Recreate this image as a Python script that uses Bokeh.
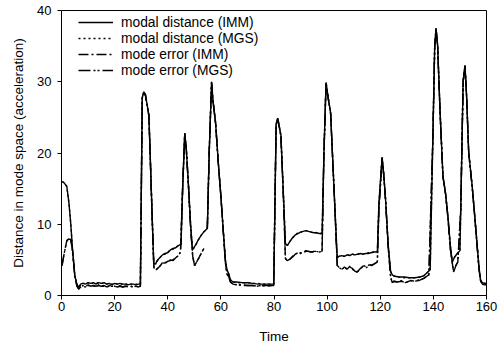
from bokeh.plotting import figure
from bokeh.models import FixedTicker, Legend, LegendItem, Range1d
from bokeh.embed import file_html
from bokeh.resources import INLINE

# ---------------- data ----------------
t_dist = [0.3, 1.0, 2.0, 2.8, 3.5, 4.2, 5.0, 5.8, 6.5, 7.2,
          8, 9, 10, 11, 12, 13, 14, 15, 16, 17,
          18, 19, 20, 21, 22, 23, 24, 25, 26, 27,
          28, 29, 29.7,
          30.4, 31.0, 31.6, 32.9, 33.5, 34.1, 34.7, 35.4, 36.0, 37.0,
          38.0, 39.0, 40.0, 41.0, 42.0, 43.0, 44.0, 45.0,
          45.6, 46.4, 47.0, 47.8, 48.6, 49.3, 50.5, 51.5, 52.5, 53.5,
          54.9,
          55.6, 56.5, 57.0, 58.0, 59.0, 60.0, 61.0, 61.7, 62.3, 63.0,
          63.6, 64.5, 66, 68, 70, 72, 74, 76, 78, 79.9,
          80.8, 81.4, 82.6, 83.5, 84.3, 85.0, 86.0, 87.0, 88.0, 89.0,
          90.0, 91.0, 92.0, 93.0, 94.0, 95.0, 96.0, 97.0, 98.1,
          98.8, 99.6, 100.3, 101.3, 102.2, 103.0, 103.8, 104.5, 105.5, 106.5,
          107.5, 108.5, 109.5, 110.5, 111.5, 112.5, 113.5, 114.5, 115.5, 116.5,
          117.5, 118.9,
          119.5, 120.7, 121.3, 122.0, 123.0, 123.9, 124.5, 125.5, 127, 129,
          131, 133, 135, 136.5, 137.9,
          138.8, 139.8, 140.5, 141.0, 141.6, 142.5, 143.6, 144.6, 145.5, 146.4,
          147.1, 148.0, 149.0, 150.0,
          150.3, 151.2, 151.9, 152.5, 153.3, 154.6, 155.5, 156.5, 157.2, 157.8,
          158.5, 159.3, 160]

modal_imm = [16.0, 15.8, 15.3, 13.0, 10.0, 6.2, 2.8, 1.6, 1.1, 1.6,
             1.7, 1.6, 1.8, 1.7, 1.8, 1.6, 1.8, 1.7, 1.8, 1.6,
             1.7, 1.5, 1.7, 1.6, 1.7, 1.6, 1.6, 1.5, 1.6, 1.6,
             1.5, 1.6, 1.6,
             27.8, 28.6, 28.2, 25.3, 18.5, 11.5, 4.5, 4.4, 4.9, 5.3,
             5.7, 5.9, 6.0, 6.4, 6.6, 6.7, 7.0, 7.2,
             15.0, 22.8, 20.5, 15.5, 10.0, 6.4, 7.1, 7.8, 8.4, 8.9,
             9.4,
             20.0, 30.0, 27.5, 24.3, 18.8, 14.0, 8.6, 5.0, 3.6, 3.0,
             2.2, 1.9, 1.9, 1.8, 1.8, 1.7, 1.6, 1.6, 1.6, 1.6,
             24.0, 24.9, 22.5, 14.5, 7.3, 7.0, 7.6, 8.1, 8.5, 8.7,
             8.9, 9.0, 9.1, 9.0, 8.9, 8.8, 8.8, 8.7, 8.7,
             20.0, 29.9, 28.0, 25.7, 18.3, 11.7, 5.3, 5.5, 5.6, 5.5,
             5.7, 5.6, 5.8, 5.7, 5.8, 5.9, 5.8, 5.9, 5.9, 6.0,
             6.1, 6.1,
             13.0, 19.4, 17.0, 13.5, 7.0, 3.4, 2.9, 2.7, 2.6, 2.6,
             2.5, 2.5, 2.6, 2.8, 3.3,
             3.6, 22.0, 35.0, 37.5, 35.1, 26.0, 16.8, 14.3, 11.0, 7.0,
             4.7, 5.4, 5.9, 6.3,
             12.0, 30.0, 32.3, 28.0, 20.1, 15.4, 11.5, 7.0, 3.8, 2.1,
             1.8, 1.7, 1.7]

modal_mgs = [16.0, 15.8, 15.3, 13.0, 10.0, 6.2, 2.8, 1.6, 1.1, 1.6,
             1.7, 1.7, 1.8, 1.6, 1.8, 1.7, 1.8, 1.7, 1.7, 1.6,
             1.7, 1.6, 1.7, 1.6, 1.6, 1.6, 1.7, 1.5, 1.6, 1.6,
             1.6, 1.6, 1.6,
             27.8, 28.6, 28.2, 25.3, 18.5, 11.5, 4.5, 4.4, 4.8, 5.3,
             5.7, 5.8, 6.1, 6.4, 6.5, 6.8, 7.0, 7.2,
             15.0, 22.8, 20.5, 15.5, 10.0, 6.4, 7.0, 7.8, 8.4, 8.9,
             9.4,
             20.0, 30.0, 27.5, 24.3, 18.8, 14.0, 8.6, 5.0, 3.6, 3.0,
             2.2, 1.9, 1.8, 1.8, 1.8, 1.7, 1.7, 1.6, 1.6, 1.6,
             24.0, 24.9, 22.5, 14.5, 7.3, 7.0, 7.6, 8.1, 8.5, 8.8,
             8.9, 9.0, 9.1, 9.0, 8.9, 8.9, 8.8, 8.7, 8.7,
             20.0, 29.9, 28.0, 25.7, 18.3, 11.7, 5.3, 5.5, 5.5, 5.5,
             5.7, 5.7, 5.8, 5.7, 5.8, 5.8, 5.8, 5.9, 6.0, 6.0,
             6.1, 6.1,
             13.0, 19.4, 17.0, 13.5, 7.0, 3.4, 2.9, 2.7, 2.6, 2.5,
             2.5, 2.5, 2.6, 2.8, 3.3,
             3.6, 22.0, 35.0, 37.5, 35.1, 26.0, 16.8, 14.3, 11.0, 7.0,
             4.7, 5.4, 5.9, 6.3,
             12.0, 30.0, 32.3, 28.0, 20.1, 15.4, 11.5, 7.0, 3.8, 2.1,
             1.8, 1.7, 1.7]

t_err = [0.2, 1.0, 2.0, 2.6, 3.4, 4.2, 5.0, 5.8, 6.5, 7.2,
         8, 9, 10, 11, 12, 13, 14, 15, 16, 17,
         18, 19, 20, 21, 22, 23, 24, 25, 26, 27,
         28, 29, 29.7,
         30.4, 31.0, 31.6, 32.9, 33.5, 34.1, 34.8, 35.4, 36.0, 37.0,
         38.0, 39.0, 40.0, 41.0, 42.0, 43.0, 44.0, 44.8,
         45.6, 46.4, 47.0, 47.8, 48.6, 49.4, 50.1, 51.0, 52.0, 53.0,
         53.6, 54.2,
         54.9, 55.6, 56.5, 57.0, 58.0, 59.0, 60.0, 61.0, 61.7, 62.3,
         63.0, 63.6, 64.5, 66, 68, 70, 72, 73.7, 75, 77,
         79, 79.9,
         80.8, 81.4, 82.6, 83.5, 84.3, 85.0, 86, 87, 88, 89,
         90, 91, 92, 93, 94, 95, 96, 97, 98.1,
         98.8, 99.6, 100.3, 101.3, 102.2, 103.0, 103.8, 104.4, 105.5, 106.5,
         107.6, 108.5, 109.5, 110.5, 111.3, 112.5, 113.8, 114.8, 115.8, 116.8,
         117.6, 118.9,
         119.5, 120.7, 121.3, 122.0, 123.0, 123.9, 124.5, 125.1, 126.5, 128,
         129.5, 131.4, 133, 134.5, 136.4, 137.5, 138.3,
         139.8, 140.5, 141.0, 141.6, 142.5, 143.6, 144.6, 145.5, 146.4, 147.6,
         148.4, 149.2,
         150.3, 151.2, 151.9, 152.5, 153.3, 154.6, 155.5, 156.5, 157.2, 157.8,
         158.5, 159.3, 160]

err_imm = [4.2, 5.9, 7.7, 7.9, 7.9, 6.2, 2.8, 1.3, 0.9, 1.2,
           1.4, 1.2, 1.5, 1.3, 1.4, 1.2, 1.5, 1.3, 1.4, 1.2,
           1.4, 1.3, 1.3, 1.2, 1.4, 1.2, 1.3, 1.2, 1.3, 1.2,
           1.3, 1.2, 1.3,
           27.7, 28.5, 28.1, 25.2, 18.3, 11.3, 3.9, 3.6, 3.7, 4.1,
           4.6, 4.5, 4.8, 5.0, 4.9, 5.3, 5.6, 6.1,
           15.0, 22.7, 20.4, 15.3, 9.5, 5.5, 4.2, 4.8, 5.5, 6.2,
           6.6, float("nan"),
           9.4, 20.0, 29.8, 27.4, 24.2, 18.7, 13.9, 8.5, 4.6, 3.0,
           2.6, 1.9, 1.6, 1.5, 1.5, 1.4, 1.4, 1.3, 1.4, 1.4,
           1.4, 1.4,
           24.0, 24.8, 22.4, 14.3, 5.2, 4.9, 5.1, 5.4, 5.8, 6.0,
           5.9, 6.0, 6.3, 6.2, 6.1, 6.1, 6.2, 6.1, 6.2,
           20.0, 29.8, 27.9, 25.6, 18.2, 11.5, 4.2, 4.0, 3.6, 4.0,
           3.7, 4.1, 3.7, 3.4, 3.3, 3.8, 4.2, 3.9, 4.3, 4.2,
           4.4, 4.7,
           12.0, 19.3, 17.0, 13.4, 6.8, 2.6, 1.8, 2.0, 1.9, 2.1,
           1.8, 2.1, 2.0, 2.2, 2.4, 2.7, 2.9,
           22.0, 35.0, 37.4, 35.0, 25.9, 16.7, 14.2, 10.8, 6.5, 3.3,
           4.2, 4.7,
           12.0, 30.0, 32.2, 28.0, 20.0, 15.3, 11.4, 6.8, 3.6, 2.0,
           1.6, 1.5, 1.5]

err_mgs = [4.2, 5.9, 7.7, 7.9, 7.9, 6.2, 2.8, 1.3, 0.9, 1.2,
           1.3, 1.2, 1.4, 1.3, 1.4, 1.3, 1.4, 1.3, 1.3, 1.2,
           1.3, 1.3, 1.3, 1.2, 1.3, 1.2, 1.3, 1.3, 1.3, 1.2,
           1.3, 1.3, 1.3,
           27.7, 28.5, 28.1, 25.2, 18.3, 11.3, 3.9, 3.6, 3.8, 4.1,
           4.5, 4.6, 4.8, 4.9, 5.0, 5.3, 5.6, 6.1,
           15.0, 22.7, 20.4, 15.3, 9.5, 5.5, 4.2, 4.8, 5.4, 6.2,
           6.6, float("nan"),
           9.4, 20.0, 29.8, 27.4, 24.2, 18.7, 13.9, 8.5, 4.6, 3.0,
           2.6, 1.9, 1.6, 1.5, 1.4, 1.4, 1.4, 1.3, 1.4, 1.3,
           1.4, 1.4,
           24.0, 24.8, 22.4, 14.3, 5.2, 4.9, 5.1, 5.5, 5.8, 6.0,
           6.0, 6.0, 6.2, 6.2, 6.1, 6.2, 6.2, 6.1, 6.2,
           20.0, 29.8, 27.9, 25.6, 18.2, 11.5, 4.2, 4.0, 3.7, 3.9,
           3.7, 4.0, 3.8, 3.4, 3.3, 3.7, 4.2, 4.0, 4.3, 4.3,
           4.4, 4.7,
           12.0, 19.3, 17.0, 13.4, 6.8, 2.6, 1.8, 2.0, 1.9, 2.0,
           1.8, 2.1, 2.0, 2.1, 2.4, 2.7, 2.9,
           22.0, 35.0, 37.4, 35.0, 25.9, 16.7, 14.2, 10.8, 6.5, 3.3,
           4.1, 4.7,
           12.0, 30.0, 32.2, 28.0, 20.0, 15.3, 11.4, 6.8, 3.6, 2.0,
           1.6, 1.5, 1.5]

series_labels = ["modal distance (IMM)", "modal distance (MGS)",
                 "mode error (IMM)", "mode error (MGS)"]
x_ticks = [0, 20, 40, 60, 80, 100, 120, 140, 160]
y_ticks = [0, 10, 20, 30, 40]

assert len(t_dist) == len(modal_imm) == len(modal_mgs), (len(t_dist), len(modal_imm), len(modal_mgs))
assert len(t_err) == len(err_imm) == len(err_mgs), (len(t_err), len(err_imm), len(err_mgs))

FONT = "Liberation Sans"

p = figure(width=503, height=347, output_backend="svg", toolbar_location=None,
           x_range=Range1d(0, 160), y_range=Range1d(0, 40),
           min_border_left=61, min_border_right=17, min_border_top=10, min_border_bottom=52)
p.background_fill_color = "white"
p.border_fill_color = "white"
p.outline_line_color = "black"
p.outline_line_width = 1
p.grid.visible = False

r1 = p.line(t_dist, modal_imm, line_color="black", line_width=1.4)
r2 = p.line(t_dist, modal_mgs, line_color="black", line_width=1.4, line_dash="2 3")
r3 = p.line(t_err, err_imm, line_color="black", line_width=1.4, line_dash="10 3 2 3")
r4 = p.line(t_err, err_mgs, line_color="black", line_width=1.4, line_dash="12 3 2 2 2 3")

for ax in (p.xaxis[0], p.yaxis[0]):
    ax.axis_line_color = "black"
    ax.axis_line_width = 1
    ax.major_tick_line_color = "black"
    ax.major_tick_in = 0
    ax.major_tick_out = 4
    ax.minor_tick_line_color = None
    ax.major_label_text_font = FONT
    ax.major_label_text_font_size = "13px"
    ax.major_label_text_color = "black"
    ax.axis_label_text_font = FONT
    ax.axis_label_text_font_size = "13.5px"
    ax.axis_label_text_font_style = "normal"
    ax.axis_label_text_color = "black"

p.xaxis[0].ticker = FixedTicker(ticks=x_ticks)
p.yaxis[0].ticker = FixedTicker(ticks=y_ticks)
p.xaxis[0].axis_label = "Time"
p.yaxis[0].axis_label = "Distance in mode space (acceleration)"
p.xaxis[0].major_label_standoff = 2
p.xaxis[0].axis_label_standoff = 15
p.yaxis[0].major_label_standoff = 6
p.yaxis[0].axis_label_standoff = 8

legend = Legend(items=[LegendItem(label=series_labels[0], renderers=[r1]),
                       LegendItem(label=series_labels[1], renderers=[r2]),
                       LegendItem(label=series_labels[2], renderers=[r3]),
                       LegendItem(label=series_labels[3], renderers=[r4])],
                location=(17, 217), orientation="vertical",
                border_line_color=None, background_fill_alpha=0,
                label_text_font=FONT, label_text_font_size="13.8px", label_text_color="black",
                glyph_width=35, glyph_height=16, label_height=16, label_standoff=8,
                spacing=0, padding=2, margin=0)
p.add_layout(legend)

open("out.html", "w").write(file_html(p, INLINE))
